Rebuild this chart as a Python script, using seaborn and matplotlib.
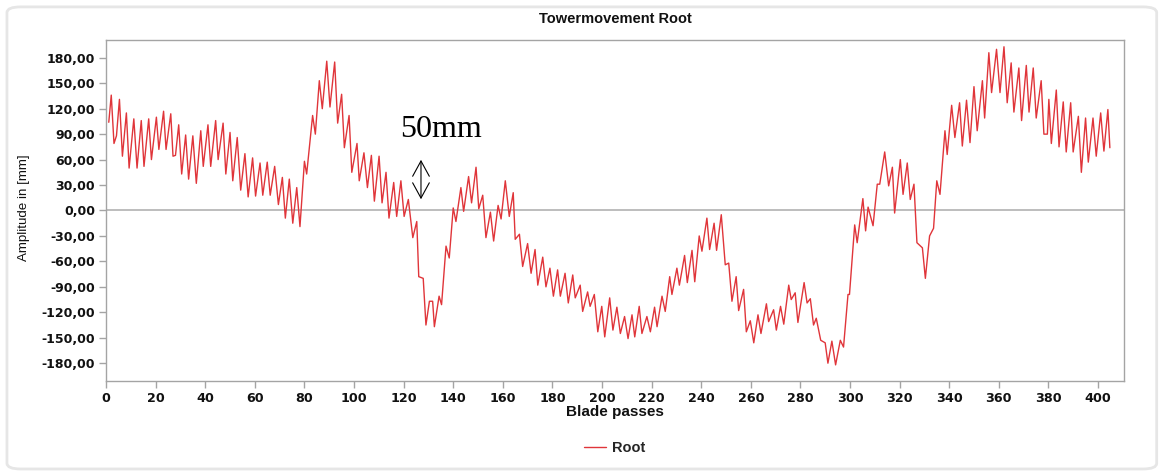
import numpy as np
import pandas as pd
import matplotlib
matplotlib.use('Agg')
import matplotlib.pyplot as plt
import seaborn as sns
from matplotlib.patches import FancyBboxPatch

# turning points of the tower movement signal
blade_passes = [
    1.1, 2.1, 3.2, 4.2, 5.4, 6.6, 8.2, 9.3, 11.2, 12.5, 14.2, 15.3, 17.2, 18.3, 20.3, 21.3,
    23.2, 24.2, 26.1, 27.0, 28.0, 29.3, 30.5, 32.1, 33.3, 35.0, 36.4, 38.2, 39.2, 41.1, 42.2,
    44.2, 45.2, 47.2, 48.3, 50.0, 51.1, 52.9, 54.3, 56.0, 57.3, 59.1, 60.3, 62.1, 63.2, 65.0,
    66.2, 68.0, 69.5, 71.1, 72.3, 73.9, 75.3, 76.9, 78.2, 80.0, 80.9, 83.3, 84.4, 86.0, 87.2,
    89.0, 90.3, 92.2, 93.4, 95.0, 96.1, 98.0, 99.1, 101.2, 102.1, 104.0, 105.4, 107.0, 108.2,
    110.1, 111.3, 112.9, 114.1, 116.0, 117.2, 118.9, 120.2, 121.9, 123.7, 125.3, 126.1, 127.9,
    129.0, 130.4, 131.7, 132.4, 134.3, 135.3, 137.1, 138.4, 140.0, 141.1, 143.1, 144.2, 146.2,
    147.4, 149.2, 150.3, 151.9, 153.2, 155.0, 156.3, 158.1, 159.3, 161.0, 162.6, 164.2, 165.0,
    166.7, 168.0, 170.0, 171.4, 173.0, 174.1, 176.1, 177.4, 179.0, 180.4, 182.1, 183.2, 185.1,
    186.4, 188.2, 189.2, 191.2, 192.2, 194.2, 195.2, 196.9, 198.3, 199.9, 201.1, 203.1, 204.4,
    206.0, 207.4, 209.1, 210.5, 212.1, 213.2, 215.0, 216.1, 218.1, 219.5, 221.2, 222.2, 224.2,
    225.5, 227.3, 228.2, 230.2, 231.2, 233.3, 234.4, 236.3, 237.4, 239.2, 240.3, 242.3, 243.4,
    245.2, 246.2, 248.1, 249.7, 251.1, 252.4, 254.1, 255.1, 257.1, 258.2, 259.8, 261.2, 262.9,
    264.1, 266.3, 267.2, 269.2, 270.3, 272.0, 273.3, 275.3, 276.3, 277.9, 279.0, 281.5, 282.7,
    284.0, 285.3, 286.4, 288.2, 290.0, 291.1, 292.7, 294.2, 296.1, 297.4, 299.2, 299.8, 301.9,
    302.9, 305.2, 306.3, 307.3, 309.3, 311.0, 312.0, 314.0, 315.6, 317.1, 318.0, 320.3, 321.4,
    323.1, 324.3, 325.8, 327.0, 329.2, 330.4, 332.1, 333.7, 335.0, 336.3, 338.3, 339.2, 341.0,
    342.3, 344.2, 345.3, 347.0, 348.4, 350.0, 351.3, 353.4, 354.3, 356.0, 357.1, 359.1, 360.5,
    362.1, 363.4, 365.0, 366.1, 368.1, 369.2, 371.1, 372.2, 373.9, 375.1, 377.1, 378.2, 379.6,
    380.2, 381.2, 383.2, 384.3, 386.0, 387.2, 389.0, 390.0, 392.1, 393.3, 395.0, 396.1, 398.0,
    399.3, 401.1, 402.4, 404.0, 404.8,
]
amplitude_mm = [
    104, 136, 79, 88, 131, 64, 115, 50, 108, 50, 106, 52, 108, 60, 110, 72,
    117, 72, 114, 64, 65, 101, 43, 89, 37, 88, 32, 94, 52, 101, 52,
    106, 60, 103, 43, 92, 35, 86, 24, 67, 16, 62, 17, 56, 18, 57,
    18, 52, 7, 39, -9, 37, -15, 27, -19, 58, 43, 112, 90, 153, 120,
    176, 122, 175, 103, 137, 74, 112, 45, 79, 35, 68, 27, 65, 11,
    64, 9, 45, -9, 33, -7, 35, -7, 13, -32, -13, -78, -80,
    -135, -107, -107, -137, -101, -111, -42, -56, 3, -13, 27, -1, 40,
    9, 51, 2, 18, -32, -2, -36, 6, -10, 35, -7, 21, -34,
    -28, -66, -39, -74, -46, -88, -55, -90, -68, -101, -70, -101, -74,
    -109, -76, -103, -88, -119, -96, -113, -99, -143, -113, -149, -103, -141,
    -114, -145, -125, -151, -123, -149, -113, -145, -125, -143, -114, -137, -101,
    -119, -78, -99, -68, -88, -53, -85, -47, -84, -30, -48, -9, -46,
    -15, -47, -5, -64, -62, -107, -78, -118, -93, -143, -130, -156, -123,
    -145, -110, -131, -117, -141, -113, -134, -88, -105, -97, -132, -85, -109,
    -104, -135, -127, -153, -156, -180, -154, -182, -153, -161, -99, -99, -17,
    -38, 14, -24, 4, -18, 31, 31, 69, 29, 51, -3, 60, 19,
    56, 13, 31, -38, -44, -80, -30, -21, 35, 19, 94, 66, 124,
    86, 127, 76, 130, 80, 146, 94, 153, 109, 186, 139, 190, 139,
    193, 127, 174, 116, 168, 106, 171, 116, 168, 109, 153, 90, 90,
    131, 79, 142, 75, 128, 69, 127, 69, 111, 45, 109, 57, 109,
    64, 115, 70, 119, 74,
]
series_name = 'Root'
x_ticks = list(range(0, 401, 20))
y_ticks = list(range(-180, 181, 30))

df = pd.DataFrame({'Blade passes': blade_passes, 'Amplitude': amplitude_mm})
df['Series'] = series_name

sns.set_style('white')
plt.rcParams['font.family'] = ['DejaVu Sans']

red = '#e0353a'
grey = '#a4a4a4'

fig = plt.figure(figsize=(11.59, 4.72), dpi=100)
ax = fig.add_axes([0.0915, 0.1928, 0.8783, 0.7225])

ax.axhline(0, color='#b8b8b8', lw=1.3, zorder=1)
sns.lineplot(data=df, x='Blade passes', y='Amplitude', hue='Series', palette=[red],
             sort=False, estimator=None, lw=1.0, ax=ax, zorder=3)

ax.set_xlim(0, 410.5)
ax.set_ylim(-201, 201)
ax.set_xticks(x_ticks)
ax.set_xticklabels([str(t) for t in x_ticks], fontweight='bold', fontsize=9.2)
ax.set_yticks(y_ticks)
ax.set_yticklabels([f'{t:.2f}'.replace('.', ',') for t in y_ticks], fontweight='bold', fontsize=9)
ax.tick_params(axis='both', bottom=True, left=True, direction='out', length=5,
               width=1, color=grey, labelcolor='#111111', pad=3)
for s in ax.spines.values():
    s.set_color(grey)
    s.set_linewidth(1.0)
ax.set_xlabel('')
ax.set_ylabel('')

# annotation of the 50 mm step
ax.annotate('', xy=(127, 10), xytext=(127, 63),
            arrowprops=dict(arrowstyle='<->,head_length=1.1,head_width=0.6', lw=0.8, color='black'))
ax.text(118.5, 87, '50mm', family=['Liberation Serif', 'DejaVu Serif'], fontsize=23,
        ha='left', va='baseline', color='black')

fig.text(0.5306, 0.960, 'Towermovement Root', ha='center', va='center', fontsize=10.5,
         fontweight='bold', family=['Liberation Sans', 'DejaVu Sans'], color='#111111')
fig.text(0.5306, 0.128, 'Blade passes', ha='center', va='center', fontsize=11,
         fontweight='bold', family=['Liberation Sans', 'DejaVu Sans'], color='#111111')
fig.text(0.0207, 0.559, 'Amplitude in [mm]', ha='center', va='center', rotation=90,
         fontsize=9.6, family=['Liberation Sans', 'DejaVu Sans'], color='#111111')

ax.legend(loc='center', bbox_to_anchor=(0.5306, 0.0508), bbox_transform=fig.transFigure,
          frameon=False, handlelength=1.5, handletextpad=0.4,
          prop={'family': ['Liberation Sans', 'DejaVu Sans'], 'weight': 'bold', 'size': 10.5})

# outer rounded frame of the screenshot
frame = FancyBboxPatch((0.006, 0.0064), 0.992, 0.979, transform=fig.transFigure,
                       boxstyle='round,pad=0,rounding_size=0.012', fill=False,
                       ec='#e6e6e6', lw=2.0, zorder=0)
fig.patches.append(frame)

fig.savefig('out.png', dpi=100)
